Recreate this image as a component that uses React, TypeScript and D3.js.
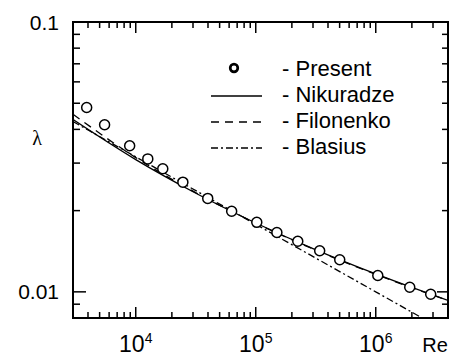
import * as d3 from "d3";

// measured friction factor (circles)
const rePresent = [3900, 5500, 8900, 12600, 16800, 24700, 39800, 63000, 102000, 150000, 224000, 341000, 501000, 1040000, 1920000, 2870000];
const lamPresent = [0.0482, 0.0416, 0.0348, 0.0311, 0.0286, 0.0255, 0.0222, 0.0199, 0.0181, 0.0166, 0.0154, 0.0142, 0.01315, 0.0115, 0.0104, 0.0098];

// reference correlations
const reNikuradze = [3000, 10000, 30000, 100000, 300000, 1000000, 2000000, 4000000];
const lamNikuradze = [0.0435, 0.0309, 0.0235, 0.018, 0.01446, 0.01165, 0.01038, 0.00929];

const reFilonenko = [3000, 10000, 30000, 100000, 300000, 1000000, 2000000, 4000000];
const lamFilonenko = [0.0455, 0.03144, 0.02361, 0.01797, 0.01442, 0.01161, 0.01036, 0.00929];

const reBlasius = [3000, 10000, 100000, 1000000, 4000000];
const lamBlasius = [0.04275, 0.03164, 0.01779, 0.01, 0.00707];

const legendItems = ["Present", "Nikuradze", "Filonenko", "Blasius"];
const xMajor = [1e4, 1e5, 1e6];
const xExp = ["4", "5", "6"];
const yMajor = [0.01, 0.1];
const yLabels = ["0.01", "0.1"];

const W = 455;
const H = 356;
const box = { left: 73, right: 448, top: 22, bottom: 318 };

export default function App() {
  const x = d3.scaleLog().domain([3000, 4e6]).range([box.left, box.right]);
  const y = d3.scaleLog().domain([0.008, 0.1]).range([box.bottom, box.top]);

  const line = d3
    .line<[number, number]>()
    .x((d) => x(d[0]))
    .y((d) => y(d[1]))
    .curve(d3.curveMonotoneX);

  const zip = (a: number[], b: number[]) => a.map((v, i) => [v, b[i]] as [number, number]);

  // minor ticks on both axes
  const xMinor: number[] = [];
  for (let e = 3; e <= 6; e++) {
    for (let k = 2; k <= 9; k++) {
      const v = k * Math.pow(10, e);
      if (v > 3000 && v < 4e6) xMinor.push(v);
    }
  }
  const yMinor: number[] = [];
  for (let e = -3; e <= -2; e++) {
    for (let k = 2; k <= 9; k++) {
      const v = k * Math.pow(10, e);
      if (v > 0.008 && v < 0.1) yMinor.push(v);
    }
  }

  const font = "'Liberation Sans', Arial, Helvetica, sans-serif";
  const lx = 211;
  const lx2 = 262;
  const rowY = [68, 94, 120, 146];

  return (
    <svg
      width={W}
      height={H}
      style={{ position: "absolute", left: 0, top: 0, background: "#fff" }}
      fontFamily={font}
    >
      <defs>
        <clipPath id="plot">
          <rect x={box.left} y={box.top} width={box.right - box.left} height={box.bottom - box.top} />
        </clipPath>
      </defs>

      {/* curves */}
      <g clipPath="url(#plot)" fill="none" stroke="#000" strokeWidth={1.3}>
        <path d={line(zip(reNikuradze, lamNikuradze)) || ""} />
        <path d={line(zip(reFilonenko, lamFilonenko)) || ""} strokeDasharray="8,6" />
        <path d={line(zip(reBlasius, lamBlasius)) || ""} strokeDasharray="7,3,2,3" />
      </g>

      {/* points */}
      {rePresent.map((r, i) => (
        <circle key={r} cx={x(r)} cy={y(lamPresent[i])} r={5} fill="#fff" stroke="#000" strokeWidth={1.5} />
      ))}

      {/* frame */}
      <rect
        x={box.left}
        y={box.top}
        width={box.right - box.left}
        height={box.bottom - box.top}
        fill="none"
        stroke="#000"
        strokeWidth={2}
      />

      {/* ticks */}
      <g stroke="#000" strokeWidth={1.5}>
        {xMinor.map((v) => (
          <g key={v}>
            <line x1={x(v)} x2={x(v)} y1={box.bottom} y2={box.bottom - 6} />
            <line x1={x(v)} x2={x(v)} y1={box.top} y2={box.top + 6} />
          </g>
        ))}
        {xMajor.map((v) => (
          <g key={v}>
            <line x1={x(v)} x2={x(v)} y1={box.bottom} y2={box.bottom - 11} />
            <line x1={x(v)} x2={x(v)} y1={box.top} y2={box.top + 11} />
          </g>
        ))}
        {yMinor.map((v) => (
          <g key={v}>
            <line x1={box.left} x2={box.left + 7} y1={y(v)} y2={y(v)} />
            <line x1={box.right} x2={box.right - 6} y1={y(v)} y2={y(v)} />
          </g>
        ))}
        {yMajor.map((v) => (
          <g key={v}>
            <line x1={box.left} x2={box.left + 13} y1={y(v)} y2={y(v)} />
            <line x1={box.right} x2={box.right - 11} y1={y(v)} y2={y(v)} />
          </g>
        ))}
      </g>

      {/* tick labels */}
      {xMajor.map((v, i) => (
        <text key={v} x={x(v)} y={352} textAnchor="middle" fontSize={23}>
          10
          <tspan fontSize={14} dy={-9}>
            {xExp[i]}
          </tspan>
        </text>
      ))}
      {yMajor.map((v, i) => (
        <text key={v} x={59} y={y(v) + 7.5} textAnchor="end" fontSize={21}>
          {yLabels[i]}
        </text>
      ))}

      {/* axis titles */}
      <text x={435} y={352} textAnchor="middle" fontSize={20}>
        Re
      </text>
      <text x={37} y={145} textAnchor="middle" fontSize={20} fontFamily="'Liberation Serif', 'Times New Roman', serif">
        λ
      </text>

      {/* legend */}
      <circle cx={234} cy={rowY[0]} r={3.8} fill="none" stroke="#000" strokeWidth={2.7} />
      <line x1={lx} x2={lx2} y1={rowY[1] + 2} y2={rowY[1] + 2} stroke="#000" strokeWidth={1.3} />
      <line x1={lx} x2={lx2} y1={rowY[2] + 2} y2={rowY[2] + 2} stroke="#000" strokeWidth={1.3} strokeDasharray="8,6" />
      <line x1={lx} x2={lx2} y1={rowY[3] + 2} y2={rowY[3] + 2} stroke="#000" strokeWidth={1.3} strokeDasharray="7,3,2,3" />
      {legendItems.map((t, i) => (
        <text key={t} x={282} y={rowY[i] + 8} fontSize={22}>
          - {t}
        </text>
      ))}
    </svg>
  );
}
